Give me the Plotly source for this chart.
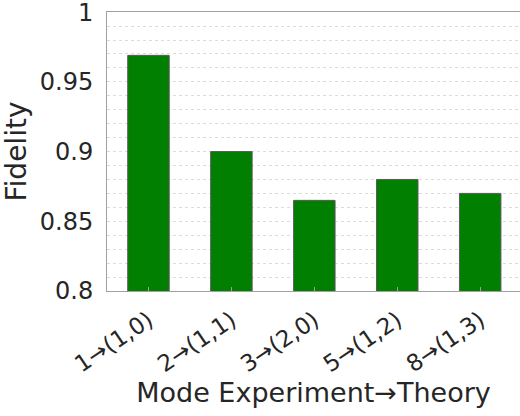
import plotly.graph_objects as go

# Mode pairings (experiment -> theory) and measured fidelities
modes = ["1→(1,0)", "2→(1,1)", "3→(2,0)", "5→(1,2)", "8→(1,3)"]
fidelity = [0.969, 0.900, 0.865, 0.880, 0.870]

y_ticks = [0.8, 0.85, 0.9, 0.95, 1.0]
y_tick_text = ["0.8", "0.85", "0.9", "0.95", "1"]

text_color = "#262626"
axis_color = "#a0a0a0"
grid_color = "#dcdcdc"
font_family = "DejaVu Sans"

fig = go.Figure()
fig.add_trace(go.Bar(
    x=list(range(len(modes))),
    y=fidelity,
    width=0.5,
    marker=dict(color="#007f00", line=dict(color="#5a5a5a", width=1)),
))

fig.update_layout(
    width=520, height=416,
    margin=dict(l=107, r=0, t=12, b=125),
    paper_bgcolor="white", plot_bgcolor="white",
    showlegend=False,
    font=dict(family=font_family, color=text_color),
)

fig.update_xaxes(
    range=[-0.5, 4.48],
    tickmode="array",
    tickvals=list(range(len(modes))),
    ticktext=modes,
    tickangle=-34,
    tickfont=dict(size=23, color=text_color),
    ticks="inside", ticklen=4, tickcolor=axis_color,
    ticklabelstandoff=6,
    showline=True, linecolor=axis_color, linewidth=1, mirror=True,
    showgrid=False, zeroline=False,
    title=dict(text="Mode Experiment→Theory", font=dict(size=27, color=text_color), standoff=6),
)

fig.update_yaxes(
    range=[0.8, 1.0001],
    tickmode="array",
    tickvals=y_ticks,
    ticktext=y_tick_text,
    tickfont=dict(size=24, color=text_color),
    ticklabelstandoff=8,
    ticklabeloverflow="allow",
    ticks="", showline=True, linecolor=axis_color, linewidth=1,
    showgrid=True, gridcolor=grid_color, griddash="dot", gridwidth=1,
    minor=dict(dtick=0.01, showgrid=True, gridcolor=grid_color, griddash="dot", gridwidth=1),
    zeroline=False,
    automargin=True,
    title=dict(text="Fidelity", font=dict(size=28, color=text_color), standoff=6),
)

fig.write_html("out.html")
